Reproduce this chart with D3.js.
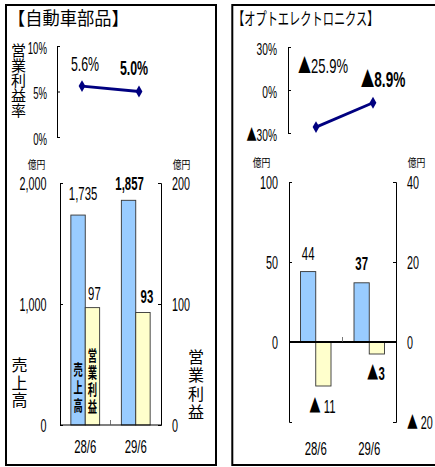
<!DOCTYPE html>
<html>
<head>
<meta charset="utf-8">
<script src="https://cdn.jsdelivr.net/npm/d3@7"></script>
<style>
body { margin: 0; background: #fff; }
svg { display: block; }
text { font-family: "Liberation Sans", Arial, sans-serif; fill: #000; }
.jp { font-family: "Noto Sans CJK JP", sans-serif; }
text.vert { writing-mode: vertical-rl; }
</style>
</head>
<body>
<svg id="chart" width="435" height="467"></svg>
<script>
//
// Data
//
var periods = ['28/6', '29/6'];

var autoSales = [1735, 1857];     // 億円
var autoProfit = [97, 93];        // 億円
var autoMargin = [5.6, 5.0];      // %

var optoSales = [44, 37];
var optoProfit = [-11, -3];
var optoMargin = [-25.9, -8.9];

var autoMarginTicks = [0, 5, 10];
var autoSalesTicks = [0, 1000, 2000];
var autoProfitTicks = [0, 100, 200];
var optoMarginTicks = [-30, 0, 30];
var optoSalesTicks = [0, 50, 100];
var optoProfitTicks = [-20, 0, 20, 40];

var blue = '#99ccff', yellow = '#ffffcc', navy = '#000080';
var SX = 0.6; // narrow look of the original font

var svg = d3.select('#chart');

function neg(v, sep) {
    var f = d3.format(',');
    return v < 0 ? '▲' + (sep || '') + f(-v) : f(v);
}

// the ▲ sign comes from the CJK font so it is full size
function fill(t, s) {
    var parts = s.split('▲');
    t.text(null);
    if (parts.length === 1) { t.text(s); return t; }
    t.append('tspan').attr('class', 'jp').text('▲');
    t.append('tspan').text(parts[1]);
    return t;
}

function txt(g, x, y, s, o) {
    o = o || {};
    var t = g.append('text')
        .attr('transform', 'translate(' + x + ',' + y + ') scale(' + (o.sx || SX) + ',1)')
        .attr('text-anchor', o.anchor || 'middle')
        .attr('font-size', o.size || 16)
        .attr('font-weight', o.bold ? 'bold' : null)
        .attr('class', o.cls || null);
    return fill(t, s);
}

// vertical japanese label, top at y, centred on x
function vtxt(g, x, y, s, o) {
    return txt(g, x, y, s, {size: o.size, sx: o.sx || 1, bold: o.bold, anchor: 'start', cls: 'jp vert'})
        .attr('letter-spacing', o.step - o.size);
}

function styleAxis(a, size, dy) {
    a.select('.domain').attr('stroke', '#000');
    a.selectAll('.tick line').attr('stroke', '#000');
    a.selectAll('.tick text').each(function () {
        var t = d3.select(this);
        var x = +t.attr('x');
        t.attr('x', null)
         .attr('dy', dy)
         .attr('transform', 'translate(' + x + ',0) scale(' + SX + ',1)')
         .attr('font-size', size);
        fill(t, t.text());
    });
}

//
// Operating margin line (top small chart)
//
function drawMargin(c) {
    var g = svg.append('g');
    var y = d3.scaleLinear().domain(c.domain).range(c.range);
    var x = d3.scalePoint().domain(periods).range(c.xs);

    var ax = g.append('g')
        .attr('transform', 'translate(' + c.axisX + ',0)')
        .call(d3.axisLeft(y).tickValues(c.ticks).tickSizeInner(-3).tickSizeOuter(-3)
            .tickPadding(c.pad).tickFormat(function (d) { return neg(d) + '%'; }));
    styleAxis(ax, c.tickSize, '0.45em');

    g.append('path')
        .datum(c.values)
        .attr('fill', 'none')
        .attr('stroke', navy)
        .attr('stroke-width', 2.8)
        .attr('d', d3.line().x(function (d, i) { return x(periods[i]); }).y(function (d) { return y(d); }));

    g.selectAll('.pt')
        .data(c.values)
        .enter()
        .append('path')
        .attr('transform', function (d, i) { return 'translate(' + x(periods[i]) + ',' + y(d) + ')'; })
        .attr('d', d3.symbol().type(d3.symbolDiamond).size(40))
        .attr('fill', navy);

    c.values.forEach(function (v, i) {
        var o = c.labelOff[i];
        txt(g, x(periods[i]) + o[0], y(v) + o[1],
            (v < 0 ? '▲' + d3.format('.1f')(-v) : d3.format('.1f')(v)) + '%',
            {size: c.labelSize[i], bold: i === 1, sx: 0.62});
    });
}

//
// Sales / operating profit bars (lower chart)
//
function drawBars(c) {
    var g = svg.append('g');
    var x = d3.scaleBand().domain(periods).range([c.left, c.right]).paddingInner(0.43).paddingOuter(0.215);
    var inner = d3.scaleBand().domain(['sales', 'profit']).range([0, x.bandwidth()]);
    var yS = d3.scaleLinear().domain(c.salesDomain).range([c.bottom, c.top]);
    var yP = d3.scaleLinear().domain(c.profitDomain).range([c.bottom, c.top]);

    var axL = g.append('g')
        .attr('transform', 'translate(' + c.left + ',0)')
        .call(d3.axisLeft(yS).tickValues(c.salesTicks).tickSizeInner(-3).tickSizeOuter(-3)
            .tickPadding(c.padL).tickFormat(function (d) { return neg(d); }));
    styleAxis(axL, 18, '0.34em');

    var axR = g.append('g')
        .attr('transform', 'translate(' + c.right + ',0)')
        .call(d3.axisRight(yP).tickValues(c.profitTicks).tickSizeInner(-3).tickSizeOuter(-3)
            .tickPadding(c.padR).tickFormat(function (d) { return neg(d, ' '); }));
    styleAxis(axR, 18, '0.34em');

    function bar(v, i, key, scale, color) {
        var x0 = x(periods[i]) + inner(key);
        g.append('rect')
            .attr('x', x0)
            .attr('width', inner.bandwidth())
            .attr('y', Math.min(scale(v), scale(0)))
            .attr('height', Math.abs(scale(v) - scale(0)))
            .attr('fill', color)
            .attr('stroke', '#333')
            .attr('stroke-width', 0.9);
        return x0 + inner.bandwidth() / 2;
    }

    c.sales.forEach(function (v, i) {
        var cx = bar(v, i, 'sales', yS, blue);
        var o = c.salesOff[i];
        txt(g, cx + o[0], yS(v) + o[1], neg(v), {size: 19, bold: i === 1});
        if (i === 0 && c.inBar) {
            vtxt(g, cx, c.inBar[0], '売上高', {step: 18, size: 15, bold: true, sx: 0.62});
        }
    });
    c.profit.forEach(function (v, i) {
        var cx = bar(v, i, 'profit', yP, yellow);
        var o = c.profitOff[i];
        txt(g, cx + o[0], yP(v) + o[1], neg(v, i === 0 ? ' ' : ''), {size: 19, bold: i === 1});
        if (i === 0 && c.inBar) {
            vtxt(g, cx, c.inBar[1], '営業利益', {step: 17, size: 15, bold: true, sx: 0.62});
        }
    });

    // zero line and category divider tick
    g.append('line')
        .attr('x1', c.left).attr('x2', c.right)
        .attr('y1', yS(0)).attr('y2', yS(0))
        .attr('stroke', '#000').attr('stroke-width', c.zeroWidth);
    var mid = (c.left + c.right) / 2;
    g.append('line')
        .attr('x1', mid).attr('x2', mid)
        .attr('y1', yS(0)).attr('y2', yS(0) - 5)
        .attr('stroke', '#555').attr('stroke-width', 0.8);

    periods.forEach(function (p) {
        txt(g, x(p) + x.bandwidth() / 2, c.xLabelY, p, {size: 19});
    });

    txt(g, c.unitX[0], c.unitY, '億円', {size: 11, sx: 0.8, cls: 'jp'});
    txt(g, c.unitX[1], c.unitY, '億円', {size: 11, sx: 0.8, cls: 'jp'});
}

//
// Frames and titles
//
svg.append('rect').attr('x', 6).attr('y', 5).attr('width', 210).attr('height', 460)
    .attr('fill', 'none').attr('stroke', '#000').attr('stroke-width', 2);
svg.append('rect').attr('x', 232.3).attr('y', 5).attr('width', 220).attr('height', 460)
    .attr('fill', 'none').attr('stroke', '#000').attr('stroke-width', 2);

var head = svg.append('g');
txt(head, 8, 25, '【自動車部品】', {size: 18, sx: 0.96, anchor: 'start', cls: 'jp'});
txt(head, 233, 25, '【オプトエレクトロニクス】', {size: 17, sx: 0.66, anchor: 'start', cls: 'jp'});

vtxt(head, 18.5, 43, '営業利益率', {step: 15, size: 15});
vtxt(head, 19.5, 357, '売上高', {step: 17.5, size: 16});
vtxt(head, 196, 349, '営業利益', {step: 18.3, size: 16});

drawMargin({
    axisX: 57, domain: [0, 10], range: [137, 46], xs: [82, 139],
    ticks: autoMarginTicks, pad: 10, tickSize: 16, values: autoMargin,
    labelOff: [[3, -15], [-5, -17]], labelSize: [20, 20]
});
drawMargin({
    axisX: 288, domain: [-30, 30], range: [133, 47], xs: [316, 373],
    ticks: optoMarginTicks, pad: 11, tickSize: 17, values: optoMargin,
    labelOff: [[7, -54], [10, -16]], labelSize: [21, 22]
});

drawBars({
    left: 60, right: 161, top: 183, bottom: 425,
    salesDomain: [0, 2000], profitDomain: [0, 200],
    salesTicks: autoSalesTicks, profitTicks: autoProfitTicks,
    padL: 13.5, padR: 11,
    sales: autoSales, profit: autoProfit,
    salesOff: [[5, -15], [1, -10]], profitOff: [[2, -8], [4, -9]],
    inBar: [362, 348], zeroWidth: 1.2, xLabelY: 453,
    unitX: [36.5, 181.5], unitY: 169
});
drawBars({
    left: 289, right: 396, top: 182, bottom: 422,
    salesDomain: [-50, 100], profitDomain: [-20, 40],
    salesTicks: optoSalesTicks, profitTicks: optoProfitTicks,
    padL: 11, padR: 11,
    sales: optoSales, profit: optoProfit,
    salesOff: [[0, -12], [0, -13]], profitOff: [[-1, 27], [-1, 26]],
    inBar: null, zeroWidth: 2.2, xLabelY: 455,
    unitX: [261.5, 416.5], unitY: 167
});
</script>
</body>
</html>
